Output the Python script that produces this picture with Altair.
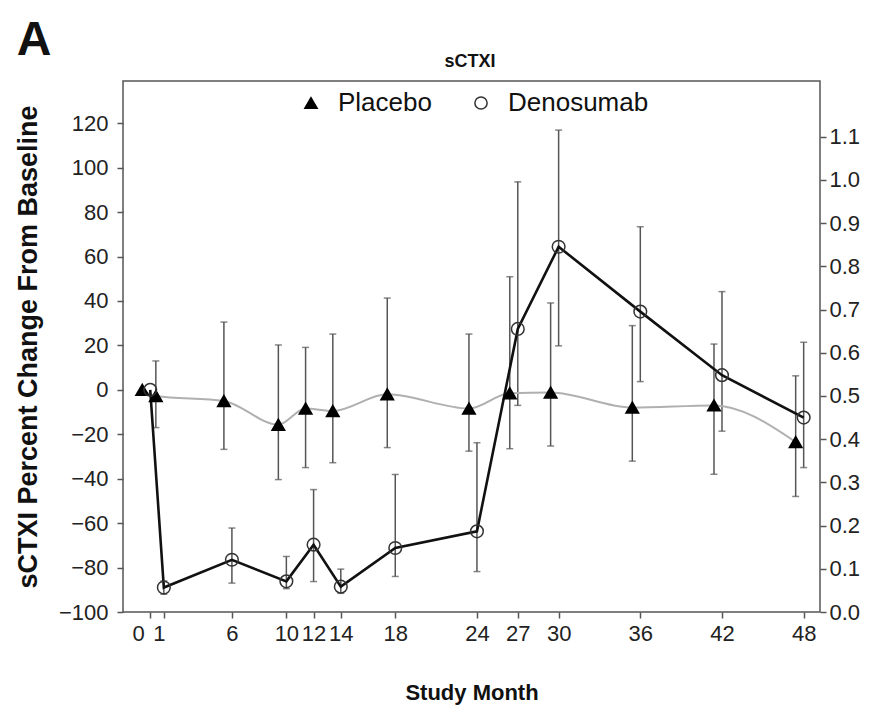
import altair as alt
import pandas as pd

# ---- data ----
months = [0, 1, 6, 10, 12, 14, 18, 24, 27, 30, 36, 42, 48]
series_names = ["Placebo", "Denosumab"]

placebo_mean = [0, -2.8, -5, -15.7, -8.4, -9.5, -2, -8.4, -1.5, -1.2, -8, -7, -23.5]
placebo_lo = [None, -17, -26.8, -40.4, -35, -32.8, -26, -27.6, -26.5, -25.3, -32.1, -38, -48]
placebo_hi = [None, 13, 30.5, 20.2, 19.1, 25.1, 41.3, 25.1, 50.9, 39.1, 28.9, 20.6, 6.3]

den_mean = [0, -89, -76.5, -86.2, -69.7, -88.6, -71.2, -63.7, 27.4, 64.4, 35.2, 6.6, -12.5]
den_lo = [None, -92, -87, -89.5, -86.3, -91.6, -84, -81.8, -7, 19.8, 3.7, -18.6, -35]
den_hi = [None, -86, -62.2, -75, -44.9, -80.7, -38.1, -23.8, 93.6, 116.9, 73.4, 44.2, 21.4]

x_ticks = [0, 1, 6, 10, 12, 14, 18, 24, 27, 30, 36, 42, 48]
y_ticks = [-100, -80, -60, -40, -20, 0, 20, 40, 60, 80, 100, 120]
right_ticks = [0.0, 0.1, 0.2, 0.3, 0.4, 0.5, 0.6, 0.7, 0.8, 0.9, 1.0, 1.1]

rows = []
for s, mv, lv, hv in [("Placebo", placebo_mean, placebo_lo, placebo_hi),
                      ("Denosumab", den_mean, den_lo, den_hi)]:
    for i, mo in enumerate(months):
        rows.append({"series": s, "month": mo, "mean": mv[i], "lo": lv[i], "hi": hv[i]})
df = pd.DataFrame(rows)

FONT = "Liberation Sans"
Y_TITLE = "sCTXI Percent Change From Baseline"

x_enc = alt.X(
    "month:Q",
    scale=alt.Scale(domain=[-2, 49.2], nice=False, zero=False),
    axis=alt.Axis(values=x_ticks, title="Study Month", labelOverlap=False,
                  labelFlush=False, titlePadding=38, labelPadding=5,
                  labelOffset=alt.expr("datum.value == 0 ? -12 : datum.value == 1 ? -5 : 0")),
)


def y_enc(field):
    return alt.Y(
        f"{field}:Q",
        scale=alt.Scale(domain=[-100, 139], nice=False, zero=False),
        axis=alt.Axis(values=y_ticks, title=Y_TITLE, titlePadding=16, labelPadding=9),
    )


legend = alt.Legend(
    title=None, orient="none", legendX=175, legendY=9, direction="horizontal",
    labelFontSize=26, labelFont=FONT, labelColor="#111", symbolSize=150,
    labelOffset=14, columnPadding=36, padding=0, symbolStrokeWidth=1.5,
)
shape_enc = alt.Shape("series:N", scale=alt.Scale(domain=series_names, range=["triangle-up", "circle"]), legend=legend)
fill_enc = alt.Fill("series:N", scale=alt.Scale(domain=series_names, range=["black", "transparent"]), legend=legend)
stroke_enc = alt.Stroke("series:N", scale=alt.Scale(domain=series_names, range=["black", "#333333"]), legend=legend)

base = alt.Chart(df)
plac = base.transform_filter(alt.datum.series == "Placebo")
den = base.transform_filter(alt.datum.series == "Denosumab")

OFF = -8
EB_COLOR = "#555555"

plac_rule = plac.mark_rule(color=EB_COLOR, strokeWidth=1.5, xOffset=OFF).encode(x=x_enc, y=y_enc("lo"), y2="hi:Q")
plac_cap_lo = plac.mark_tick(color=EB_COLOR, thickness=1.5, size=7, orient="horizontal", xOffset=OFF).encode(x=x_enc, y=y_enc("lo"))
plac_cap_hi = plac.mark_tick(color=EB_COLOR, thickness=1.5, size=7, orient="horizontal", xOffset=OFF).encode(x=x_enc, y=y_enc("hi"))

den_rule = den.mark_rule(color=EB_COLOR, strokeWidth=1.5).encode(x=x_enc, y=y_enc("lo"), y2="hi:Q")
den_cap_lo = den.mark_tick(color=EB_COLOR, thickness=1.5, size=7, orient="horizontal").encode(x=x_enc, y=y_enc("lo"))
den_cap_hi = den.mark_tick(color=EB_COLOR, thickness=1.5, size=7, orient="horizontal").encode(x=x_enc, y=y_enc("hi"))

plac_line = plac.mark_line(color="#b0b0b0", strokeWidth=2, interpolate="monotone", xOffset=OFF).encode(
    x=x_enc, y=y_enc("mean"))
den_line = den.mark_line(color="#111111", strokeWidth=2.6).encode(x=x_enc, y=y_enc("mean"))

plac_pts = plac.mark_point(size=160, strokeWidth=1.5, opacity=1, xOffset=OFF).encode(
    x=x_enc, y=y_enc("mean"), shape=shape_enc, fill=fill_enc, stroke=stroke_enc)
den_pts = den.mark_point(size=160, strokeWidth=1.5, opacity=1).encode(
    x=x_enc, y=y_enc("mean"), shape=shape_enc, fill=fill_enc, stroke=stroke_enc)

panel_letter = alt.Chart(pd.DataFrame({"t": ["A"]})).mark_text(
    font=FONT, fontSize=48, fontWeight="bold", color="#111", align="center", baseline="middle"
).encode(text="t:N", x=alt.value(-89), y=alt.value(-40))

panel_title = alt.Chart(pd.DataFrame({"t": ["sCTXI"]})).mark_text(
    font=FONT, fontSize=18, fontWeight="bold", color="#111", align="center", baseline="middle"
).encode(text="t:N", x=alt.value(347), y=alt.value(-19))

left = alt.layer(plac_rule, plac_cap_lo, plac_cap_hi, den_rule, den_cap_lo, den_cap_hi,
                 plac_line, den_line, plac_pts, den_pts, panel_letter, panel_title)

right = alt.Chart(pd.DataFrame({"r": right_ticks})).mark_point(opacity=0).encode(
    y=alt.Y("r:Q", scale=alt.Scale(domain=[0, 1.229], nice=False, zero=False),
            axis=alt.Axis(orient="right", values=right_ticks, format=".1f", title=None, labelPadding=3))
)

chart = alt.layer(left, right).resolve_scale(y="independent").properties(
    width=697, height=531,
    padding={"left": 123, "top": 81, "right": 56, "bottom": 96},
    autosize="none",
    background="white",
).configure_view(
    stroke="#555555", strokeWidth=1.5
).configure_axis(
    domain=False, tickColor="#555555", tickSize=6, tickWidth=1.5,
    labelFont=FONT, labelFontSize=22, labelColor="#222222",
    titleFont=FONT, titleFontSize=27, titleFontWeight="bold", titleColor="#111111",
    grid=False,
).configure_axisX(titleFontSize=22)

chart.save("out.html", embed_options={"renderer": "svg", "actions": False})
